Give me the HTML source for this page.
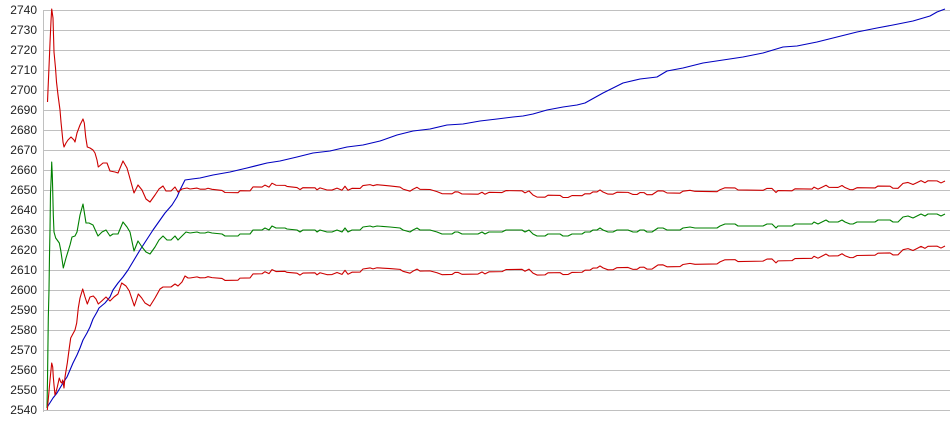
<!DOCTYPE html>
<html><head><meta charset="utf-8"><style>
html,body{margin:0;padding:0;background:#fff;width:950px;height:435px;overflow:hidden}
svg{display:block}
text{font-family:"Liberation Sans",Arial,sans-serif;font-size:12px;fill:#222}
</style></head><body>
<svg width="950" height="435" viewBox="0 0 950 435" xmlns="http://www.w3.org/2000/svg">
<g stroke="#c0c0c0" stroke-width="1">
<line x1="43" y1="10.5" x2="950" y2="10.5"/>
<line x1="43" y1="30.5" x2="950" y2="30.5"/>
<line x1="43" y1="50.5" x2="950" y2="50.5"/>
<line x1="43" y1="70.5" x2="950" y2="70.5"/>
<line x1="43" y1="90.5" x2="950" y2="90.5"/>
<line x1="43" y1="110.5" x2="950" y2="110.5"/>
<line x1="43" y1="130.5" x2="950" y2="130.5"/>
<line x1="43" y1="150.5" x2="950" y2="150.5"/>
<line x1="43" y1="170.5" x2="950" y2="170.5"/>
<line x1="43" y1="190.5" x2="950" y2="190.5"/>
<line x1="43" y1="210.5" x2="950" y2="210.5"/>
<line x1="43" y1="230.5" x2="950" y2="230.5"/>
<line x1="43" y1="250.5" x2="950" y2="250.5"/>
<line x1="43" y1="270.5" x2="950" y2="270.5"/>
<line x1="43" y1="290.5" x2="950" y2="290.5"/>
<line x1="43" y1="310.5" x2="950" y2="310.5"/>
<line x1="43" y1="330.5" x2="950" y2="330.5"/>
<line x1="43" y1="350.5" x2="950" y2="350.5"/>
<line x1="43" y1="370.5" x2="950" y2="370.5"/>
<line x1="43" y1="390.5" x2="950" y2="390.5"/>
<line x1="43" y1="410.5" x2="950" y2="410.5"/>
<line x1="43.5" y1="10" x2="43.5" y2="412"/>
</g>
<g text-anchor="end">
<text x="37" y="14">2740</text>
<text x="37" y="34">2730</text>
<text x="37" y="54">2720</text>
<text x="37" y="74">2710</text>
<text x="37" y="94">2700</text>
<text x="37" y="114">2690</text>
<text x="37" y="134">2680</text>
<text x="37" y="154">2670</text>
<text x="37" y="174">2660</text>
<text x="37" y="194">2650</text>
<text x="37" y="214">2640</text>
<text x="37" y="234">2630</text>
<text x="37" y="254">2620</text>
<text x="37" y="274">2610</text>
<text x="37" y="294">2600</text>
<text x="37" y="314">2590</text>
<text x="37" y="334">2580</text>
<text x="37" y="354">2570</text>
<text x="37" y="374">2560</text>
<text x="37" y="394">2550</text>
<text x="37" y="414">2540</text>
</g>
<g fill="none" stroke-width="1.1" stroke-linejoin="round">
<!-- blue -->
<polyline stroke="#0000c0" points="47.3,407 53,398 57,393 60,388 63,383 67,377 70,370 73,363 77,355 80,348 83,340 87,333 90,327 93,319 97,312 99,308 105,303 110,297 113,290 118,283 123,277 128,270 140,250 153,230 165,213 172,205 177,197 180,190 182,186 185,180 192,179 200,178 213,175 230,172 247,168 267,163 280,161 297,157 313,153 330,151 347,147 363,145 380,141 397,135 413,131 430,129 447,125 463,124 480,121 497,119 513,117 523,116 533,114 547,110 563,107 577,105 585,103 603,93 623,83 640,79 657,77 667,71 683,68 703,63 723,60 743,57 763,53 783,47 797,46 817,42 837,37 857,32 877,28 893,25 913,21 930,16 937,12 945,9"/>
<!-- green early -->
<polyline stroke="#008000" points="47,408 47.5,380 48.3,318 49,290 49.5,255 50,230 50.5,193 51.3,175 51.7,162 52.3,175 52.7,190 53.3,215 54,232 55.7,238 59.3,243 60.7,250 63.3,268 66,258 70,245 72,237 75,236 77,232 80,215 83,204 86,223 89,223 93,225 98,236 102,232 106,230 110,236 113,234 118,234 123,222 127,227 130,232 134,251 138,241 142,247 146,252 150,254 155,247 159,240 163,236 167,240 171,240 175,236 178,240 182,236 186,232 190,233"/>
<!-- upper red early -->
<polyline stroke="#cc0000" points="47.5,102 48,90 49,67 50,43 51,21 51.7,9 53,18 53.5,35 54,52 55.5,68 56.5,82 58,95 60,110 61,122 62,132 63,142 64,147 66,143 68,140 71,137 74,140 75,142 77,133 80,125 83,119 84.3,123 85.7,137 87.3,147 90,148 93,150 95,153 97,160 98.3,167 103,163 107,163 110,171 115,172 118,173 123,161 127,168 129,175 134,193 138,185 142,190 146,199 150,202 155,195 159,189 163,186 166,191 171,191 175,187 178,192 182,189 187,188 190,189"/>
<!-- lower red early -->
<polyline stroke="#cc0000" points="47.3,410 49.3,388 50,380 51.7,363 52.7,367 53.3,377 54,385 55,395 56,392 57.3,387 59.3,378 60.7,382 61.7,383 62.7,380 64,388 65,377 67.3,363 69.3,348 70.7,338 72.3,335 75,330 76.7,323 78.3,308 80,298 82.7,289 85,297 87.3,304 90,297 93.3,296 96,299 98.3,304 101.7,301 106,297 110,301 114,297 118,294 121.7,283 126,286 129.3,291 134.3,306 138.3,294 141.7,298 145,303 150,306 155,298 160,289 163,287 167,287 171,287 175,284 178,286 182,282 185,276 188,278 190,278"/>
<!-- late series: green, and red bands as transformed copies -->
<polyline stroke="#008000" points="190,233 197,232 200,233 205,233 208,232 212,233 222,234 225,236 238,236 240,234 250,234 253,230 262,230 265,228 269,230 272,226 276,228 285,228 287,229 297,230 300,232 303,230 315,230 317,232 320,230 327,232 332,232 337,230 342,232 345,228 348,232 352,230 360,230 363,227 370,226 373,227 377,226 390,227 400,228 403,230 410,232 413,230 417,228 420,230 430,230 437,232 442,234 452,234 455,232 458,232 462,234 478,234 482,232 485,234 489,232 502,232 506,230 522,230 525,232 529,230 533,234 537,236 545,236 548,234 560,234 563,236 568,236 572,234 582,234 585,232 590,232 593,230 597,230 600,228 603,230 608,232 613,232 617,230 628,230 633,232 637,232 640,230 644,230 647,232 652,232 655,230 658,228 663,228 667,230 680,230 683,228 690,227 695,228 717,228 720,226 725,224 735,224 738,226 763,226 767,224 772,224 776,228 778,226 792,226 795,224 812,224 814,222 818,224 822,222 826,220 829,222 838,222 842,220 845,222 850,224 853,224 857,222 875,222 878,220 890,220 893,222 898,222 903,217 908,216 913,218 917,216 921,214 925,216 928,214 937,214 941,216 945,214"/>
<polyline stroke="#cc0000" transform="matrix(1,0.01457,0,1,0,-46.77)" points="190,233 197,232 200,233 205,233 208,232 212,233 222,234 225,236 238,236 240,234 250,234 253,230 262,230 265,228 269,230 272,226 276,228 285,228 287,229 297,230 300,232 303,230 315,230 317,232 320,230 327,232 332,232 337,230 342,232 345,228 348,232 352,230 360,230 363,227 370,226 373,227 377,226 390,227 400,228 403,230 410,232 413,230 417,228 420,230 430,230 437,232 442,234 452,234 455,232 458,232 462,234 478,234 482,232 485,234 489,232 502,232 506,230 522,230 525,232 529,230 533,234 537,236 545,236 548,234 560,234 563,236 568,236 572,234 582,234 585,232 590,232 593,230 597,230 600,228 603,230 608,232 613,232 617,230 628,230 633,232 637,232 640,230 644,230 647,232 652,232 655,230 658,228 663,228 667,230 680,230 683,228 690,227 695,228 717,228 720,226 725,224 735,224 738,226 763,226 767,224 772,224 776,228 778,226 792,226 795,224 812,224 814,222 818,224 822,222 826,220 829,222 838,222 842,220 845,222 850,224 853,224 857,222 875,222 878,220 890,220 893,222 898,222 903,217 908,216 913,218 917,216 921,214 925,216 928,214 937,214 941,216 945,214"/>
<polyline stroke="#cc0000" transform="matrix(1,-0.01722,0,1,0,48.27)" points="190,233 197,232 200,233 205,233 208,232 212,233 222,234 225,236 238,236 240,234 250,234 253,230 262,230 265,228 269,230 272,226 276,228 285,228 287,229 297,230 300,232 303,230 315,230 317,232 320,230 327,232 332,232 337,230 342,232 345,228 348,232 352,230 360,230 363,227 370,226 373,227 377,226 390,227 400,228 403,230 410,232 413,230 417,228 420,230 430,230 437,232 442,234 452,234 455,232 458,232 462,234 478,234 482,232 485,234 489,232 502,232 506,230 522,230 525,232 529,230 533,234 537,236 545,236 548,234 560,234 563,236 568,236 572,234 582,234 585,232 590,232 593,230 597,230 600,228 603,230 608,232 613,232 617,230 628,230 633,232 637,232 640,230 644,230 647,232 652,232 655,230 658,228 663,228 667,230 680,230 683,228 690,227 695,228 717,228 720,226 725,224 735,224 738,226 763,226 767,224 772,224 776,228 778,226 792,226 795,224 812,224 814,222 818,224 822,222 826,220 829,222 838,222 842,220 845,222 850,224 853,224 857,222 875,222 878,220 890,220 893,222 898,222 903,217 908,216 913,218 917,216 921,214 925,216 928,214 937,214 941,216 945,214"/>
</g>
</svg>
</body></html>
